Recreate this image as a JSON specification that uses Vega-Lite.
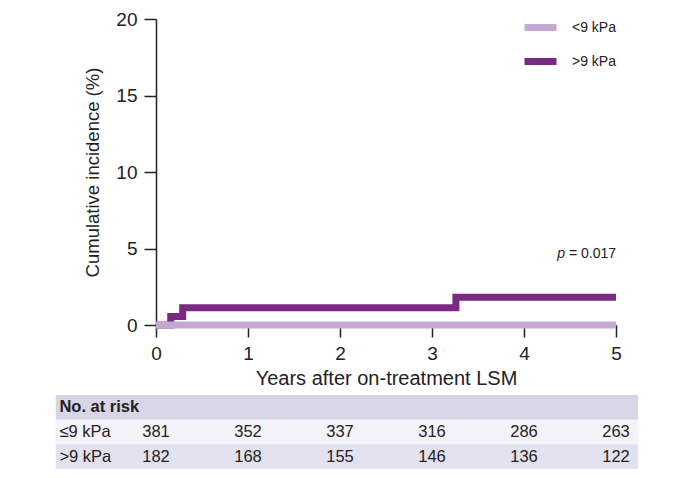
{
  "$schema": "https://vega.github.io/schema/vega-lite/v6.json",
  "background": "white",
  "padding": {"left": 55, "top": 8, "right": 10, "bottom": 5},
  "spacing": 7,
  "config": {
    "view": {"stroke": null},
    "font": "Liberation Sans",
    "axis": {"labelFont": "Liberation Sans", "titleFont": "Liberation Sans", "labelColor": "#222", "titleColor": "#222", "domainColor": "#222", "tickColor": "#222", "grid": false, "titleFontWeight": "normal"}
  },
  "vconcat": [
    {
      "width": 460,
      "height": 306,
      "layer": [
        {
          "data": {"values": [
            {"group": ">9 kPa", "t": 0, "ci": 0},
            {"group": ">9 kPa", "t": 0.16, "ci": 0.55},
            {"group": ">9 kPa", "t": 0.29, "ci": 1.13},
            {"group": ">9 kPa", "t": 3.26, "ci": 1.81},
            {"group": ">9 kPa", "t": 5, "ci": 1.81},
            {"group": "<9 kPa", "t": 0, "ci": 0},
            {"group": "<9 kPa", "t": 5, "ci": 0}
          ]},
          "mark": {"type": "line", "interpolate": "step-after", "strokeWidth": 7, "strokeCap": "butt", "clip": false},
          "encoding": {
            "x": {"field": "t", "type": "quantitative", "scale": {"domain": [0, 5], "nice": false},
              "axis": {"values": [0, 1, 2, 3, 4, 5], "format": "d", "labelFlush": false, "title": "Years after on-treatment LSM", "labelFontSize": 19, "titleFontSize": 20, "tickSize": 12, "domainWidth": 1.5, "tickWidth": 1.5, "labelPadding": 7, "titlePadding": 5}},
            "y": {"field": "ci", "type": "quantitative", "scale": {"domain": [0, 20], "nice": false},
              "axis": {"values": [0, 5, 10, 15, 20], "format": "d", "labelFlush": false, "title": "Cumulative incidence (%)", "labelFontSize": 19, "titleFontSize": 18.5, "tickSize": 12, "domainWidth": 1.5, "tickWidth": 1.5, "labelPadding": 7, "titlePadding": 13}},
            "color": {"field": "group", "type": "nominal",
              "scale": {"domain": ["<9 kPa", ">9 kPa"], "range": ["#c5a7d4", "#7a2a82"]},
              "legend": {"title": null, "orient": "none", "legendX": 365, "legendY": -11, "symbolType": "stroke", "symbolStrokeWidth": 7, "symbolSize": 1024, "labelFontSize": 14, "labelColor": "#222", "labelFont": "Liberation Sans", "rowPadding": -4, "labelOffset": 12, "padding": 0}}
          }
        },
        {
          "data": {"values": [{"t": 5, "y": 4.64, "txt": "= 0.017"}]},
          "mark": {"type": "text", "align": "right", "baseline": "middle", "fontSize": 14, "color": "#222"},
          "encoding": {"x": {"field": "t", "type": "quantitative"}, "y": {"field": "y", "type": "quantitative"}, "text": {"field": "txt"}}
        },
        {
          "data": {"values": [{"t": 5, "y": 4.64, "txt": "p"}]},
          "mark": {"type": "text", "align": "right", "baseline": "middle", "fontSize": 14, "fontStyle": "italic", "color": "#222", "dx": -51},
          "encoding": {"x": {"field": "t", "type": "quantitative"}, "y": {"field": "y", "type": "quantitative"}, "text": {"field": "txt"}}
        }
      ]
    },
    {
      "width": 460,
      "height": 74,
      "layer": [
        {
          "data": {"values": [
            {"row": "h", "x0": -1.09, "x1": 5.24},
            {"row": "r1", "x0": -1.09, "x1": 5.24},
            {"row": "r2", "x0": -1.09, "x1": 5.24}
          ]},
          "mark": {"type": "rect", "clip": false},
          "encoding": {
            "x": {"field": "x0", "type": "quantitative", "scale": {"domain": [0, 5], "nice": false}, "axis": null},
            "x2": {"field": "x1"},
            "y": {"field": "row", "type": "nominal", "scale": {"domain": ["h", "r1", "r2"], "paddingInner": 0, "paddingOuter": 0}, "axis": null},
            "fill": {"field": "row", "type": "nominal", "scale": {"domain": ["h", "r1", "r2"], "range": ["#d8d5e7", "#f4f3f9", "#e3e1ef"]}, "legend": null}
          }
        },
        {
          "data": {"values": [
            {"row": "h", "x": -1.05, "txt": "No. at risk"}
          ]},
          "mark": {"type": "text", "align": "left", "baseline": "middle", "fontSize": 16.5, "fontWeight": "bold", "color": "#222", "clip": false},
          "encoding": {"x": {"field": "x", "type": "quantitative"}, "y": {"field": "row", "type": "nominal"}, "text": {"field": "txt"}}
        },
        {
          "data": {"values": [
            {"row": "r1", "x": -1.05, "txt": "≤9 kPa"},
            {"row": "r2", "x": -1.05, "txt": ">9 kPa"}
          ]},
          "mark": {"type": "text", "align": "left", "baseline": "middle", "fontSize": 16.5, "color": "#222", "clip": false},
          "encoding": {"x": {"field": "x", "type": "quantitative"}, "y": {"field": "row", "type": "nominal"}, "text": {"field": "txt"}}
        },
        {
          "data": {"values": [
            {"row": "r1", "x": 0, "n": 381}, {"row": "r1", "x": 1, "n": 352}, {"row": "r1", "x": 2, "n": 337},
            {"row": "r1", "x": 3, "n": 316}, {"row": "r1", "x": 4, "n": 286}, {"row": "r1", "x": 5, "n": 263},
            {"row": "r2", "x": 0, "n": 182}, {"row": "r2", "x": 1, "n": 168}, {"row": "r2", "x": 2, "n": 155},
            {"row": "r2", "x": 3, "n": 146}, {"row": "r2", "x": 4, "n": 136}, {"row": "r2", "x": 5, "n": 122}
          ]},
          "mark": {"type": "text", "align": "center", "baseline": "middle", "fontSize": 16.5, "color": "#222", "clip": false},
          "encoding": {"x": {"field": "x", "type": "quantitative"}, "y": {"field": "row", "type": "nominal"}, "text": {"field": "n", "type": "quantitative"}}
        }
      ]
    }
  ]
}
